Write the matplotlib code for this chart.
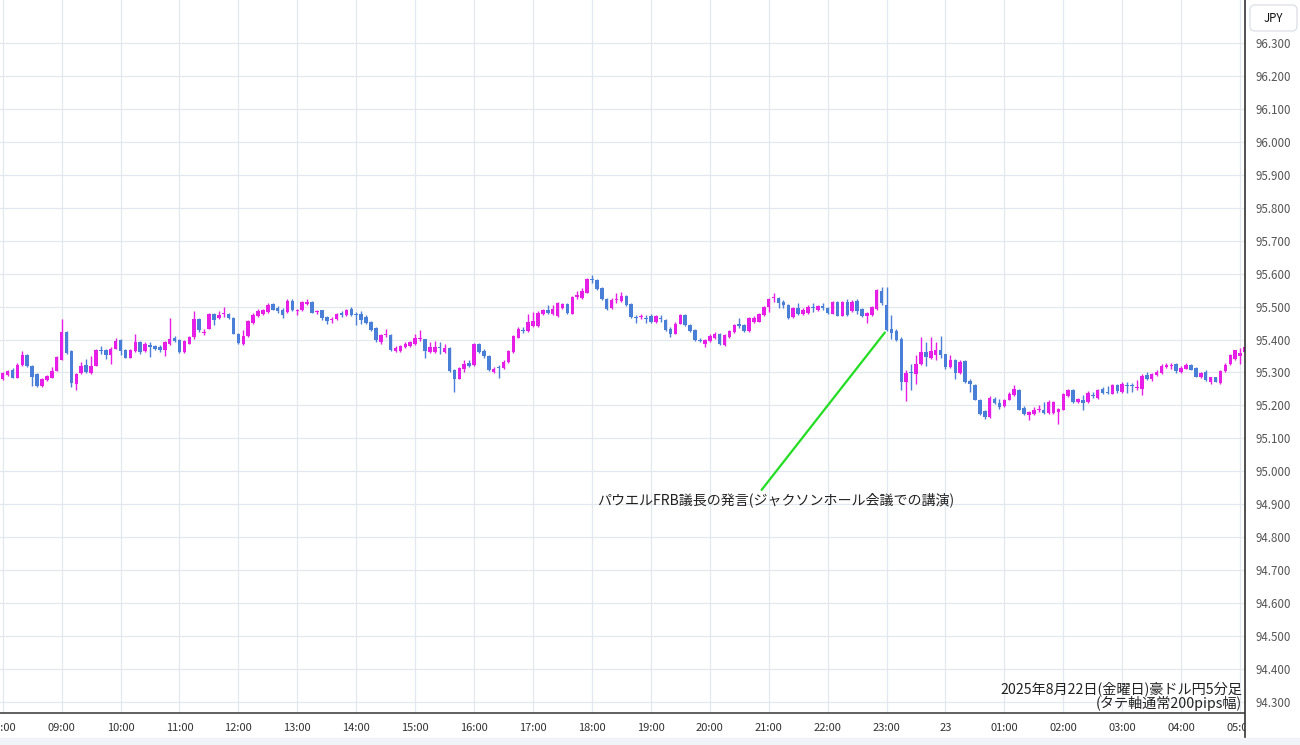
import numpy as np
import matplotlib
matplotlib.use("Agg")
import matplotlib.pyplot as plt
from matplotlib.patches import FancyBboxPatch

plt.rcParams['font.family'] = ['Noto Sans CJK JP', 'DejaVu Sans']

# AUD/JPY 5 minute candles, 2025-08-22 08:00 -> 2025-08-23 05:05
opens = [
    95.281, 95.293, 95.308, 95.284, 95.324, 95.352, 95.321, 95.296, 95.260, 95.276,
    95.284, 95.306, 95.339, 95.423, 95.364, 95.265, 95.298, 95.324, 95.298, 95.321,
    95.369, 95.367, 95.352, 95.372, 95.398, 95.367, 95.345, 95.365, 95.392, 95.365,
    95.384, 95.379, 95.377, 95.367, 95.385, 95.406, 95.398, 95.362, 95.387, 95.408,
    95.461, 95.420, 95.433, 95.479, 95.464, 95.477, 95.479, 95.464, 95.418, 95.387,
    95.410, 95.451, 95.471, 95.479, 95.484, 95.507, 95.497, 95.491, 95.484, 95.518,
    95.487, 95.489, 95.507, 95.515, 95.484, 95.489, 95.469, 95.460, 95.461, 95.482,
    95.473, 95.494, 95.479, 95.479, 95.469, 95.454, 95.435, 95.393, 95.415, 95.413,
    95.365, 95.365, 95.377, 95.379, 95.385, 95.401, 95.401, 95.362, 95.362, 95.377,
    95.362, 95.375, 95.308, 95.281, 95.311, 95.328, 95.323, 95.387, 95.365, 95.349,
    95.300, 95.318, 95.314, 95.332, 95.362, 95.406, 95.430, 95.425, 95.440, 95.440,
    95.477, 95.491, 95.477, 95.471, 95.497, 95.507, 95.479, 95.530, 95.525, 95.542,
    95.585, 95.581, 95.555, 95.522, 95.497, 95.520, 95.518, 95.532, 95.507, 95.469,
    95.467, 95.466, 95.471, 95.454, 95.466, 95.459, 95.433, 95.418, 95.448, 95.474,
    95.443, 95.428, 95.399, 95.387, 95.396, 95.406, 95.416, 95.382, 95.408, 95.423,
    95.446, 95.444, 95.426, 95.454, 95.454, 95.474, 95.498, 95.525, 95.525, 95.515,
    95.505, 95.467, 95.495, 95.477, 95.481, 95.500, 95.489, 95.502, 95.495, 95.479,
    95.515, 95.472, 95.515, 95.487, 95.518, 95.492, 95.471, 95.474, 95.492, 95.548,
    95.505, 95.431, 95.426, 95.403, 95.271, 95.300, 95.294, 95.327, 95.362, 95.345,
    95.352, 95.369, 95.355, 95.317, 95.337, 95.298, 95.335, 95.274, 95.261, 95.218,
    95.183, 95.165, 95.221, 95.207, 95.197, 95.218, 95.231, 95.246, 95.193, 95.172,
    95.173, 95.185, 95.187, 95.177, 95.177, 95.180, 95.187, 95.228, 95.246, 95.211,
    95.218, 95.211, 95.232, 95.224, 95.251, 95.242, 95.236, 95.261, 95.241, 95.263,
    95.262, 95.254, 95.251, 95.292, 95.280, 95.292, 95.297, 95.317, 95.321, 95.327,
    95.302, 95.312, 95.322, 95.315, 95.285, 95.302, 95.272, 95.285, 95.269, 95.305,
    95.325, 95.340, 95.350, 95.363,
]
highs = [
    95.302, 95.309, 95.314, 95.328, 95.364, 95.355, 95.324, 95.298, 95.284, 95.291,
    95.316, 95.351, 95.461, 95.426, 95.367, 95.299, 95.332, 95.342, 95.349, 95.370,
    95.379, 95.370, 95.377, 95.406, 95.401, 95.372, 95.372, 95.418, 95.396, 95.392,
    95.393, 95.383, 95.384, 95.396, 95.464, 95.410, 95.401, 95.400, 95.412, 95.487,
    95.464, 95.433, 95.481, 95.482, 95.487, 95.499, 95.482, 95.467, 95.421, 95.430,
    95.459, 95.482, 95.494, 95.494, 95.510, 95.512, 95.501, 95.495, 95.522, 95.522,
    95.494, 95.518, 95.523, 95.518, 95.491, 95.491, 95.472, 95.467, 95.482, 95.487,
    95.493, 95.499, 95.484, 95.487, 95.474, 95.457, 95.438, 95.418, 95.433, 95.416,
    95.379, 95.384, 95.394, 95.396, 95.416, 95.430, 95.403, 95.393, 95.396, 95.393,
    95.387, 95.377, 95.310, 95.317, 95.337, 95.337, 95.391, 95.391, 95.372, 95.352,
    95.318, 95.324, 95.337, 95.367, 95.413, 95.438, 95.438, 95.477, 95.484, 95.487,
    95.492, 95.504, 95.504, 95.515, 95.512, 95.512, 95.532, 95.548, 95.555, 95.586,
    95.596, 95.584, 95.558, 95.525, 95.525, 95.541, 95.545, 95.535, 95.512, 95.474,
    95.479, 95.473, 95.477, 95.474, 95.474, 95.462, 95.438, 95.452, 95.477, 95.477,
    95.446, 95.431, 95.404, 95.403, 95.418, 95.423, 95.420, 95.416, 95.430, 95.448,
    95.464, 95.447, 95.467, 95.471, 95.481, 95.502, 95.526, 95.540, 95.528, 95.520,
    95.508, 95.500, 95.512, 95.495, 95.505, 95.510, 95.506, 95.510, 95.500, 95.518,
    95.518, 95.518, 95.522, 95.520, 95.522, 95.495, 95.484, 95.502, 95.553, 95.559,
    95.559, 95.474, 95.431, 95.408, 95.308, 95.327, 95.352, 95.408, 95.393, 95.408,
    95.393, 95.410, 95.357, 95.352, 95.342, 95.337, 95.339, 95.279, 95.264, 95.221,
    95.187, 95.228, 95.226, 95.221, 95.221, 95.241, 95.261, 95.249, 95.197, 95.183,
    95.195, 95.200, 95.210, 95.218, 95.214, 95.193, 95.238, 95.249, 95.249, 95.224,
    95.231, 95.244, 95.241, 95.249, 95.256, 95.258, 95.266, 95.264, 95.272, 95.272,
    95.268, 95.277, 95.294, 95.302, 95.299, 95.307, 95.326, 95.329, 95.329, 95.329,
    95.319, 95.329, 95.327, 95.317, 95.302, 95.309, 95.287, 95.287, 95.307, 95.329,
    95.356, 95.368, 95.373, 95.383,
]
lows = [
    95.276, 95.289, 95.282, 95.282, 95.320, 95.318, 95.260, 95.257, 95.255, 95.274,
    95.282, 95.304, 95.337, 95.357, 95.255, 95.247, 95.296, 95.298, 95.296, 95.319,
    95.357, 95.342, 95.326, 95.370, 95.352, 95.343, 95.343, 95.363, 95.357, 95.363,
    95.347, 95.369, 95.362, 95.351, 95.383, 95.392, 95.360, 95.360, 95.385, 95.403,
    95.423, 95.413, 95.431, 95.443, 95.462, 95.467, 95.461, 95.416, 95.387, 95.382,
    95.408, 95.448, 95.469, 95.476, 95.481, 95.489, 95.481, 95.464, 95.482, 95.487,
    95.474, 95.487, 95.505, 95.480, 95.479, 95.459, 95.446, 95.451, 95.459, 95.469,
    95.471, 95.471, 95.445, 95.448, 95.446, 95.426, 95.393, 95.387, 95.408, 95.365,
    95.363, 95.363, 95.375, 95.377, 95.383, 95.396, 95.345, 95.360, 95.360, 95.357,
    95.360, 95.302, 95.240, 95.279, 95.300, 95.318, 95.320, 95.359, 95.345, 95.306,
    95.298, 95.284, 95.311, 95.329, 95.360, 95.404, 95.420, 95.423, 95.438, 95.438,
    95.474, 95.477, 95.474, 95.469, 95.494, 95.479, 95.477, 95.522, 95.523, 95.540,
    95.571, 95.550, 95.520, 95.489, 95.494, 95.512, 95.515, 95.502, 95.464, 95.449,
    95.461, 95.449, 95.451, 95.451, 95.454, 95.426, 95.408, 95.416, 95.446, 95.441,
    95.423, 95.396, 95.393, 95.377, 95.394, 95.403, 95.382, 95.380, 95.406, 95.420,
    95.434, 95.424, 95.424, 95.451, 95.452, 95.472, 95.484, 95.515, 95.495, 95.495,
    95.462, 95.464, 95.476, 95.474, 95.479, 95.484, 95.487, 95.489, 95.477, 95.477,
    95.470, 95.470, 95.472, 95.484, 95.479, 95.469, 95.449, 95.472, 95.489, 95.505,
    95.426, 95.403, 95.395, 95.247, 95.215, 95.246, 95.266, 95.322, 95.319, 95.342,
    95.339, 95.345, 95.312, 95.315, 95.281, 95.296, 95.269, 95.241, 95.216, 95.170,
    95.160, 95.163, 95.205, 95.190, 95.195, 95.216, 95.228, 95.185, 95.170, 95.155,
    95.170, 95.180, 95.175, 95.175, 95.175, 95.144, 95.185, 95.226, 95.208, 95.208,
    95.185, 95.208, 95.224, 95.221, 95.235, 95.234, 95.234, 95.239, 95.238, 95.238,
    95.241, 95.246, 95.231, 95.277, 95.275, 95.289, 95.294, 95.314, 95.310, 95.297,
    95.299, 95.310, 95.307, 95.285, 95.282, 95.275, 95.266, 95.270, 95.266, 95.302,
    95.322, 95.337, 95.325, 95.361,
]
closes = [
    95.298, 95.306, 95.284, 95.324, 95.352, 95.320, 95.286, 95.260, 95.281, 95.288,
    95.306, 95.347, 95.423, 95.359, 95.267, 95.296, 95.321, 95.301, 95.321, 95.367,
    95.365, 95.352, 95.372, 95.395, 95.365, 95.345, 95.367, 95.392, 95.362, 95.387,
    95.377, 95.372, 95.367, 95.393, 95.403, 95.396, 95.362, 95.396, 95.408, 95.461,
    95.430, 95.423, 95.477, 95.459, 95.476, 95.480, 95.464, 95.418, 95.389, 95.410,
    95.456, 95.474, 95.487, 95.489, 95.504, 95.491, 95.487, 95.474, 95.518, 95.489,
    95.489, 95.515, 95.515, 95.482, 95.487, 95.464, 95.456, 95.463, 95.479, 95.475,
    95.491, 95.473, 95.476, 95.459, 95.451, 95.428, 95.398, 95.413, 95.418, 95.367,
    95.375, 95.379, 95.387, 95.392, 95.404, 95.404, 95.365, 95.377, 95.377, 95.374,
    95.375, 95.304, 95.281, 95.314, 95.326, 95.321, 95.387, 95.362, 95.349, 95.308,
    95.312, 95.314, 95.332, 95.365, 95.410, 95.433, 95.426, 95.454, 95.457, 95.482,
    95.489, 95.481, 95.494, 95.512, 95.507, 95.481, 95.528, 95.534, 95.548, 95.583,
    95.581, 95.552, 95.522, 95.494, 95.520, 95.524, 95.532, 95.504, 95.467, 95.465,
    95.471, 95.462, 95.454, 95.471, 95.462, 95.428, 95.418, 95.448, 95.474, 95.443,
    95.426, 95.398, 95.397, 95.398, 95.412, 95.416, 95.385, 95.413, 95.426, 95.443,
    95.442, 95.426, 95.464, 95.466, 95.477, 95.498, 95.522, 95.529, 95.510, 95.504,
    95.464, 95.495, 95.479, 95.489, 95.500, 95.496, 95.502, 95.497, 95.481, 95.515,
    95.472, 95.515, 95.474, 95.515, 95.487, 95.471, 95.481, 95.498, 95.551, 95.510,
    95.428, 95.420, 95.400, 95.271, 95.298, 95.297, 95.325, 95.362, 95.347, 95.365,
    95.367, 95.352, 95.317, 95.337, 95.298, 95.332, 95.271, 95.266, 95.218, 95.173,
    95.165, 95.224, 95.207, 95.195, 95.218, 95.234, 95.251, 95.187, 95.173, 95.179,
    95.185, 95.188, 95.177, 95.211, 95.209, 95.189, 95.234, 95.246, 95.211, 95.220,
    95.207, 95.238, 95.229, 95.246, 95.237, 95.239, 95.261, 95.243, 95.266, 95.259,
    95.259, 95.257, 95.290, 95.280, 95.294, 95.302, 95.320, 95.324, 95.324, 95.304,
    95.315, 95.324, 95.309, 95.287, 95.299, 95.277, 95.285, 95.272, 95.305, 95.322,
    95.353, 95.368, 95.358, 95.378,
]

hour_labels = ["08:00", "09:00", "10:00", "11:00", "12:00", "13:00", "14:00", "15:00",
               "16:00", "17:00", "18:00", "19:00", "20:00", "21:00", "22:00", "23:00",
               "23", "01:00", "02:00", "03:00", "04:00", "05:00"]
price_ticks = [94.3, 94.4, 94.5, 94.6, 94.7, 94.8, 94.9, 95.0, 95.1, 95.2, 95.3,
               95.4, 95.5, 95.6, 95.7, 95.8, 95.9, 96.0, 96.1, 96.2, 96.3]

event_text = "パウエルFRB議長の発言(ジャクソンホール会議での講演)"
event_index = 180
note_line1 = "2025年8月22日(金曜日)豪ドル円5分足"
note_line2 = "(タテ軸通常200pips幅)"

UP = "#e61ee6"
DOWN = "#4a7fd8"
GRID = "#e3e8ee"

o = np.array(opens)
h = np.array(highs)
l = np.array(lows)
c = np.array(closes)
x = np.arange(len(o))
colors = np.where(c >= o, UP, DOWN)

W, H = 1300, 745
fig = plt.figure(figsize=(13, 7.45), dpi=100)
ax_l, ax_r, ax_b = 0.0, 1245 / W, 32 / H
ax = fig.add_axes([ax_l, ax_b, ax_r - ax_l, 1 - ax_b])

ymin, ymax = 94.2666, 96.4305
ax.set_ylim(ymin, ymax)
ax.set_xlim(-0.55, 253.0)

# wicks + bodies
ax.vlines(x, l, h, colors=colors, linewidth=1.0, zorder=3)
body = np.maximum(np.abs(c - o), 0.0018)
ax.bar(x, body, bottom=np.minimum(o, c), width=0.72, color=colors, linewidth=0, zorder=4)

# grid
ax.set_yticks(price_ticks)
ax.set_xticks(np.arange(len(hour_labels)) * 12)
ax.set_xticklabels(hour_labels)
ax.grid(True, color=GRID, linewidth=0.9, zorder=0)
ax.tick_params(axis="y", left=False, labelleft=False)
ax.tick_params(axis="x", length=0, pad=7, labelsize=8, labelcolor="#333333")
for s in ["top", "left", "right"]:
    ax.spines[s].set_visible(False)
ax.spines["bottom"].set_color("#444444")
ax.spines["bottom"].set_linewidth(1.2)

# annotation
ax.annotate("", xy=(event_index, c[event_index]), xytext=(154.2, 94.937),
            arrowprops=dict(arrowstyle="-", color="#22dd22", lw=1.6), zorder=5)
ax.text(121.0, 94.913, event_text, fontsize=10.1, color="#222222", va="center", ha="left", zorder=6)

ax.text(1242 / 1245, (713 - 689) / 713, note_line1, transform=ax.transAxes,
        fontsize=10.2, color="#222222", ha="right", va="center")
ax.text(1242 / 1245, (713 - 703) / 713, note_line2, transform=ax.transAxes,
        fontsize=10.2, color="#222222", ha="right", va="center")

# bottom strip
fig.patches.append(plt.Rectangle((0, 0), 1, 7 / H, transform=fig.transFigure,
                                 color="#f0f3f7", zorder=0))

# right price panel
scale = (H - 32) / (ymax - ymin)
ax2 = fig.add_axes([ax_r, 0, 1 - ax_r, 1])
ax2.set_facecolor("white")
ax2.set_ylim(ymin - 32 / scale, ymax)
ax2.set_xticks([])
ax2.set_yticks(price_ticks)
ax2.set_yticklabels(["%.3f" % p for p in price_ticks])
ax2.yaxis.tick_right()
ax2.tick_params(axis="y", length=0, pad=-32, labelsize=8.3, labelcolor="#555555")
for s in ["top", "right", "bottom"]:
    ax2.spines[s].set_visible(False)
ax2.spines["left"].set_color("#333333")
ax2.spines["left"].set_linewidth(1.2)
box = FancyBboxPatch((12.50, 7.14), 0.47, 0.26, boxstyle="round,pad=0,rounding_size=0.05",
                     transform=fig.dpi_scale_trans, fc="white", ec="#dcdfe6", lw=0.9, clip_on=False)
ax2.add_patch(box)
ax2.text(0.52, 1 - 18 / H, "JPY", transform=ax2.transAxes, fontsize=8.3, color="#111111",
         ha="center", va="center")

plt.savefig("out.png", dpi=100)
